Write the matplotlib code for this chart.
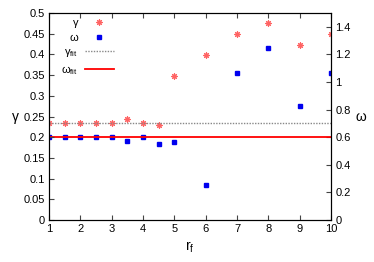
import matplotlib.pyplot as plt
import numpy as np

plt.rcParams['font.family'] = ['Liberation Sans', 'DejaVu Sans']
plt.rcParams['mathtext.fontset'] = 'custom'
plt.rcParams['mathtext.rm'] = 'Liberation Sans'
plt.rcParams['mathtext.it'] = 'Liberation Sans:italic'

# data
r_f = [1, 1.5, 2, 2.5, 3, 3.5, 4, 4.5, 5, 6, 7, 8, 9, 10]
gamma = [0.2335, 0.2335, 0.2335, 0.2335, 0.2335, 0.245, 0.2335, 0.2295,
         0.348, 0.398, 0.45, 0.475, 0.423, 0.45]
omega = [0.6, 0.6, 0.6, 0.6, 0.6, 0.57, 0.6, 0.551, 0.563, 0.251,
         1.067, 1.249, 0.824, 1.067]
gamma_fit = 0.2335
omega_fit = 0.6

fig = plt.figure(figsize=(3.74, 2.62), dpi=100)
ax = fig.add_axes([0.131, 0.160, 0.754, 0.790])
ax2 = ax.twinx()

g_pts, = ax.plot(r_f, gamma, ls='none', marker=(8, 2, 0), ms=4.5, mew=0.8,
                 color='#ff3030', alpha=0.75, label='γ')
ax.set_zorder(ax2.get_zorder() + 1)
ax.patch.set_visible(False)
o_pts, = ax.plot([], [], ls='none', marker='s', ms=3, color='#0000ee', label='ω')
g_fit = ax.axhline(gamma_fit, color='#888888', ls=(0, (1, 1)), lw=1.0,
                   label=r'γ$_{\rm fit}$')
o_fit, = ax.plot([], [], color='#ff0000', lw=1.3, label=r'ω$_{\rm fit}$')

ax2.plot(r_f, omega, ls='none', marker='s', ms=3, color='#0000ee')
ax2.axhline(omega_fit, color='#ff0000', lw=1.3)

ax.set_xlim(1, 10)
ax.set_ylim(0, 0.5)
ax2.set_ylim(0, 1.5)
ax.set_xticks(np.arange(1, 11, 1))
ax.set_yticks(np.arange(0, 0.51, 0.05))
ax.set_yticklabels(['0', '0.05', '0.1', '0.15', '0.2', '0.25', '0.3',
                    '0.35', '0.4', '0.45', '0.5'])
ax2.set_yticks(np.arange(0, 1.41, 0.2))
ax2.set_yticklabels(['0', '0.2', '0.4', '0.6', '0.8', '1', '1.2', '1.4'])

ax.tick_params(direction='in', length=3.5, labelsize=8, top=True, right=False,
               color='#444444', pad=3)
ax2.tick_params(direction='in', length=3.5, labelsize=8, color='#444444', pad=3)

ax.set_xlabel(r'r$_{\rm f}$', fontsize=10, labelpad=4)
ax.set_ylabel('γ', fontsize=10, rotation=0, labelpad=6, va='center')
ax2.set_ylabel('ω', fontsize=10, rotation=0, labelpad=7, va='center')

leg = ax.legend(handles=[g_pts, o_pts, g_fit, o_fit], loc='upper left',
                bbox_to_anchor=(0.008, 1.025), frameon=False, markerfirst=False,
                fontsize=8, handlelength=2.6, labelspacing=0.42,
                handletextpad=0.6)

fig.savefig('out.png', dpi=100)
